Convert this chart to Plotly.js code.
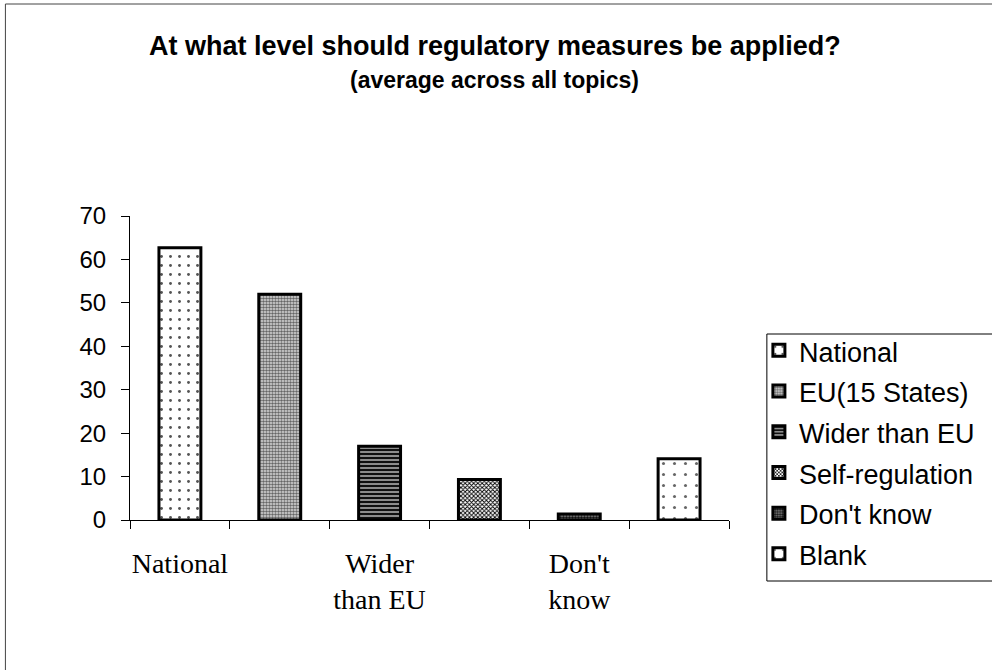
<!DOCTYPE html>
<html>
<head>
<meta charset="utf-8">
<script src="https://cdn.plot.ly/plotly-3.0.1.min.js"></script>
<style>
  html, body { margin: 0; padding: 0; background: #fff; }
  #chart { width: 992px; height: 670px; }
</style>
</head>
<body>
<div id="chart"></div>
<script>
// Survey answers: share of respondents per preferred regulatory level
const categories = ['National', 'EU(15 States)', 'Wider than EU', 'Self-regulation', "Don't know", 'Blank'];
const values = [62.7, 52.0, 17.0, 9.3, 1.4, 14.1];
// Axis labels shown under every other category
const tickPositions = [0, 2, 4];
const tickLabels = ['National', 'Wider<br>than EU', "Don't<br>know"];
const yTicks = [0, 10, 20, 30, 40, 50, 60, 70];

// Fill textures per category (monochrome print style)
const patterns = [
  { shape: '.', fgcolor: '#555', bgcolor: '#fff', size: 9, solidity: 0.08 },
  { shape: '.', fgcolor: '#666', bgcolor: '#ddd', size: 3, solidity: 0.55 },
  { shape: '-', fgcolor: '#111', bgcolor: '#999', size: 4, solidity: 0.55 },
  { shape: 'x', fgcolor: '#000', bgcolor: '#fff', size: 3, solidity: 0.5 },
  { shape: '.', fgcolor: '#111', bgcolor: '#888', size: 3, solidity: 0.6 },
  { shape: '.', fgcolor: '#666', bgcolor: '#fff', size: 11, solidity: 0.06 }
];

const W = 992, H = 670;
const M = { l: 130, r: 261, t: 216, b: 150 };
const plotW = W - M.l - M.r, plotH = H - M.t - M.b;
const px2x = px => (px - M.l) / plotW;
const px2y = py => (H - M.b - py) / plotH;

const sans = 'Arial, "Liberation Sans", sans-serif';
const serif = '"Times New Roman", "Liberation Serif", serif';

const traces = categories.map((name, i) => ({
  type: 'bar',
  x: [i],
  y: [values[i]],
  width: 0.42,
  name: '<span style="font-size:27px">' + name + '</span>',
  marker: {
    color: '#fff',
    line: { color: '#000', width: 3 },
    pattern: patterns[i]
  },
  hoverinfo: 'skip'
}));

const layout = {
  width: W,
  height: H,
  margin: M,
  paper_bgcolor: '#fff',
  plot_bgcolor: '#fff',
  barmode: 'overlay',
  showlegend: true,
  font: { family: sans, color: '#000' },
  xaxis: {
    range: [-0.5, 5.5],
    tickmode: 'array',
    tickvals: tickPositions,
    ticktext: tickLabels,
    ticks: '',
    ticklabelstandoff: 18,
    tickfont: { family: serif, size: 28, color: '#000' },
    showline: true,
    linecolor: '#000',
    linewidth: 1,
    showgrid: false,
    zeroline: false,
    minor: { tickmode: 'linear', tick0: -0.5, dtick: 1, ticks: 'outside', ticklen: 8, tickcolor: '#000', tickwidth: 1, showgrid: false },
    fixedrange: true
  },
  yaxis: {
    range: [0, 70],
    tickmode: 'array',
    tickvals: yTicks,
    ticks: 'outside',
    ticklen: 8,
    tickcolor: '#000',
    ticklabelstandoff: 10,
    tickfont: { family: sans, size: 24, color: '#000' },
    showline: true,
    linecolor: '#000',
    linewidth: 1,
    showgrid: false,
    zeroline: false,
    fixedrange: true
  },
  legend: {
    x: px2x(761),
    y: px2y(325),
    xanchor: 'left',
    yanchor: 'top',
    bgcolor: 'rgba(0,0,0,0)',
    borderwidth: 0,
    font: { family: sans, size: 29, color: '#000' },
    itemclick: false,
    itemdoubleclick: false
  },
  annotations: [
    {
      text: '<b>At what level should regulatory measures be applied?</b>',
      xref: 'paper', yref: 'paper',
      x: px2x(496), y: px2y(46),
      xanchor: 'center', yanchor: 'middle',
      showarrow: false,
      font: { family: sans, size: 27, color: '#000' }
    },
    {
      text: '<b>(average across all topics)</b>',
      xref: 'paper', yref: 'paper',
      x: px2x(496), y: px2y(80),
      xanchor: 'center', yanchor: 'middle',
      showarrow: false,
      font: { family: sans, size: 23, color: '#000' }
    }
  ],
  shapes: [
    {
      // outer chart frame
      type: 'rect',
      xref: 'paper', yref: 'paper',
      x0: px2x(5), x1: px2x(1010),
      y0: px2y(690), y1: px2y(4),
      line: { color: '#444', width: 1 },
      fillcolor: 'rgba(0,0,0,0)',
      layer: 'below'
    },
    {
      // legend frame
      type: 'rect',
      xref: 'paper', yref: 'paper',
      x0: px2x(769), x1: px2x(1010),
      y0: px2y(581), y1: px2y(334),
      line: { color: '#000', width: 1 },
      fillcolor: 'rgba(0,0,0,0)',
      layer: 'below'
    }
  ]
};

Plotly.newPlot('chart', traces, layout, { displayModeBar: false, staticPlot: true });
</script>
</body>
</html>
